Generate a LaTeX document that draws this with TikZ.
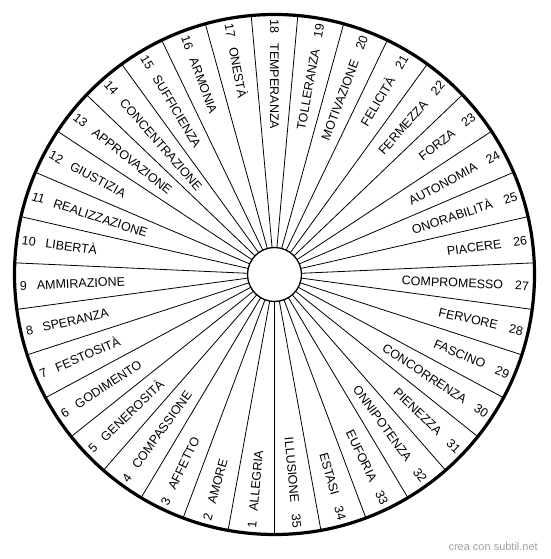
\documentclass[tikz,border=0pt]{standalone}
\usepackage{fontspec}
\setmainfont{Liberation Sans}
\usetikzlibrary{calc}
\definecolor{wmgray}{HTML}{A0A0A0}
\begin{document}
\begin{tikzpicture}[x=1pt,y=1pt,
  lab/.style={font=\fontsize{12.5}{14}\selectfont, inner sep=0pt, text height=9pt, text depth=0pt},
  divline/.style={line width=0.8pt},
  outerring/.style={line width=3.2pt},
  innerring/.style={line width=1.3pt, fill=white}]
\useasboundingbox (0,0) rectangle (550,559);
\coordinate (c) at (274.5,284.5);
\foreach \k in {0,...,34}{
  \pgfmathsetmacro\ang{270-\k*360/35}
  \draw[divline] ($(c)+(\ang:27)$) -- ($(c)+(\ang:260)$);
}
\draw[outerring] (c) circle (260);
\draw[innerring] (c) circle (27);
\foreach \w [count=\i] in {ALLEGRIA,AMORE,AFFETTO,COMPASSIONE,GENEROSITÀ,GODIMENTO,FESTOSITÀ,SPERANZA,AMMIRAZIONE,LIBERTÀ,REALIZZAZIONE,GIUSTIZIA,APPROVAZIONE,CONCENTRAZIONE,SUFFICIENZA,ARMONIA,ONESTÀ,TEMPERANZA,TOLLERANZA,MOTIVAZIONE,FELICITÀ,FERMEZZA,FORZA,AUTONOMIA,ONORABILITÀ,PIACERE,COMPROMESSO,FERVORE,FASCINO,CONCORRENZA,PIENEZZA,ONNIPOTENZA,EUFORIA,ESTASI,ILLUSIONE}{
  \pgfmathsetmacro\a{270-(\i-0.5)*360/35}
  \pgfmathsetmacro\b{\a+180}
  \ifnum\i<19
    \node[lab, anchor=west, rotate=\b] (s\i) at ($(c)+(\a:255)$) {\i\hspace{10pt}\w};
  \else
    \node[lab, anchor=east, rotate=\a] (s\i) at ($(c)+(\a:255)$) {\w\hspace{12pt}\i};
  \fi
}
\node[font=\fontsize{11}{13}\selectfont, text=wmgray, anchor=east, inner sep=0pt] (wm) at (538,12) {crea con subtil.net};
\end{tikzpicture}
\end{document}
